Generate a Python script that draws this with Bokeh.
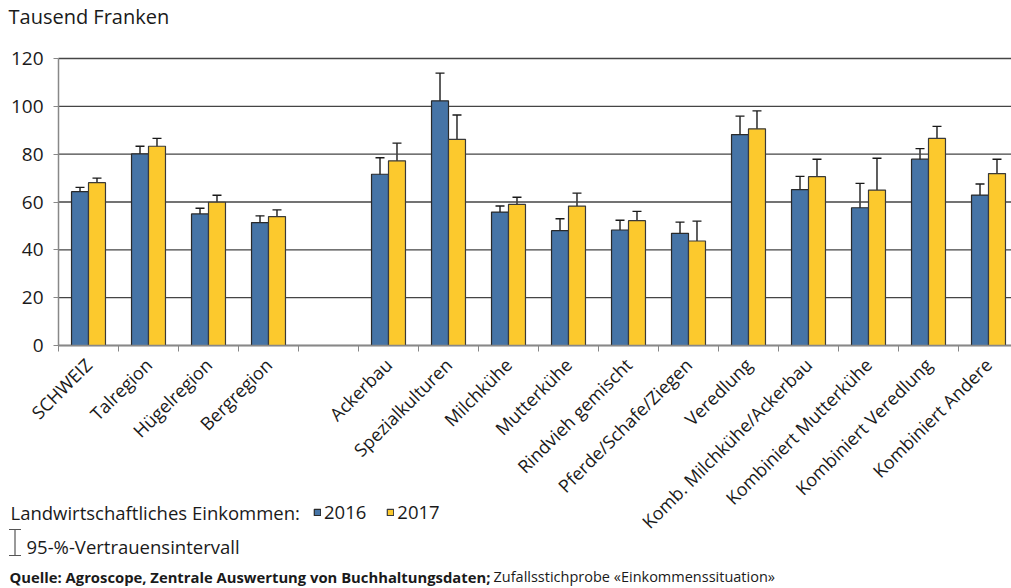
import math
from bokeh.plotting import figure
from bokeh.models import (ColumnDataSource, Whisker, TeeHead, FixedTicker, Label, Range1d,
                          Legend, LegendItem)
from bokeh.embed import file_html
from bokeh.resources import INLINE

# ---------------- data ----------------
categories = ["SCHWEIZ", "Talregion", "Hügelregion", "Bergregion", "",
              "Ackerbau", "Spezialkulturen", "Milchkühe", "Mutterkühe",
              "Rindvieh gemischt", "Pferde/Schafe/Ziegen", "Veredlung",
              "Komb. Milchkühe/Ackerbau", "Kombiniert Mutterkühe",
              "Kombiniert Veredlung", "Kombiniert Andere"]
values_2016 = [64.3, 80.1, 55.0, 51.4, None, 71.6, 102.3, 55.8, 48.0, 48.3,
               46.9, 88.2, 65.2, 57.6, 77.9, 62.9]
ci_2016 = [1.8, 3.2, 2.4, 2.8, None, 6.9, 11.6, 2.5, 5.0, 4.1,
           4.7, 7.7, 5.5, 10.2, 4.4, 4.6]
values_2017 = [68.1, 83.3, 59.9, 53.9, None, 77.2, 86.2, 59.0, 58.3, 52.2,
               43.7, 90.6, 70.6, 65.0, 86.6, 71.9]
ci_2017 = [1.9, 3.3, 2.9, 2.8, None, 7.4, 10.2, 3.0, 5.4, 3.9,
           8.3, 7.5, 7.3, 13.3, 5.0, 6.0]
y_ticks = [0, 20, 40, 60, 80, 100, 120]
series_names = ["2016", "2017"]

BLUE = "#4674a6"
YELLOW = "#fcc92d"
FONT = "Open Sans"
TXT = "#1a1a1a"
AXIS = "#888888"
GRID = "#454545"

# ---------------- geometry ----------------
# The plotting frame covers the whole canvas so that the texts below the
# chart are not clipped; the axes are pinned at x=-0.5 and y=0.
W, H = 1011, 588
AX_X, AX_Y = 58, 345          # canvas px of the axis corner
SLOT_PX = 60.0                # px per category slot
Y_PX = (AX_Y - 58) / 120.0    # px per thousand francs
X0 = -0.5
BW = 0.283
OFF = BW / 2

x_start = X0 - AX_X / SLOT_PX
x_end = X0 + (W - AX_X) / SLOT_PX
y_end = AX_Y / Y_PX
y_start = -(H - AX_Y) / Y_PX

p = figure(width=W, height=H, output_backend="svg", toolbar_location=None,
           x_range=Range1d(x_start, x_end), y_range=Range1d(y_start, y_end),
           min_border=0)
p.outline_line_color = None
p.background_fill_color = "white"
p.border_fill_color = "white"
p.xgrid.visible = False
p.ygrid.visible = False

# horizontal grid lines (from the axis to the right edge)
p.segment(x0=[X0] * len(y_ticks), x1=[x_end] * len(y_ticks), y0=y_ticks, y1=y_ticks,
          line_color=GRID, line_width=1.3)

def build(vals, cis, shift):
    xs, tops, lo, hi = [], [], [], []
    for i, (v, c) in enumerate(zip(vals, cis)):
        if v is None:
            continue
        xs.append(i + shift)
        tops.append(v)
        lo.append(v - c)
        hi.append(v + c)
    return ColumnDataSource(dict(x=xs, top=tops, lo=lo, hi=hi))

src16 = build(values_2016, ci_2016, -OFF)
src17 = build(values_2017, ci_2017, OFF)

r16 = p.vbar(x="x", top="top", width=BW, source=src16, fill_color=BLUE,
             line_color="#2a2a2a", line_width=1.2)
r17 = p.vbar(x="x", top="top", width=BW, source=src17, fill_color=YELLOW,
             line_color="#3a3a3a", line_width=1.2)

for src in (src16, src17):
    p.add_layout(Whisker(source=src, base="x", lower="lo", upper="hi",
                         line_color="#1a1a1a", line_width=1.4,
                         upper_head=TeeHead(size=9, line_color="#1a1a1a", line_width=1.4),
                         lower_head=TeeHead(size=9, line_color="#1a1a1a", line_width=1.4)))

# ---------------- axes ----------------
xa = p.xaxis[0]
xa.fixed_location = 0
xa.bounds = (X0, x_end)
xa.ticker = FixedTicker(ticks=list(range(len(categories))),
                        minor_ticks=[i - 0.5 for i in range(len(categories) + 1)])
xa.major_label_overrides = {i: c for i, c in enumerate(categories)}
xa.major_label_orientation = math.pi / 4
xa.major_tick_in = 0
xa.major_tick_out = 0
xa.minor_tick_in = 0
xa.minor_tick_out = 6
xa.minor_tick_line_color = AXIS
xa.axis_line_color = AXIS
xa.axis_line_width = 1.5
xa.major_label_text_font = FONT
xa.major_label_text_font_size = "18px"
xa.major_label_text_color = TXT
xa.major_label_standoff = 10

ya = p.yaxis[0]
ya.fixed_location = X0
ya.bounds = (0, 120)
ya.ticker = FixedTicker(ticks=y_ticks)
ya.major_tick_in = 0
ya.major_tick_out = 5
ya.minor_tick_out = 0
ya.minor_tick_in = 0
ya.major_tick_line_color = AXIS
ya.axis_line_color = AXIS
ya.axis_line_width = 1.5
ya.major_label_text_font = FONT
ya.major_label_text_font_size = "19px"
ya.major_label_text_color = TXT
ya.major_label_standoff = 10

# ---------------- texts (screen units: px from the frame's bottom-left) ----------------
def lab(text, px, py, size, bold=False, color=TXT):
    shift = 0.38 * size          # observed baseline offset of the svg text
    p.add_layout(Label(x=px, y=H - py + shift, x_units="screen", y_units="screen",
                       text=text, text_font=FONT, text_font_size=f"{size}px",
                       text_font_style="bold" if bold else "normal",
                       text_color=color, text_baseline="alphabetic"))

lab("Tausend Franken", 8, 24, 20)
lab("Landwirtschaftliches Einkommen:", 10, 519, 18.5)
lab("95-%-Vertrauensintervall", 26, 553, 18.5)
lab("Quelle: Agroscope, Zentrale Auswertung von Buchhaltungsdaten;", 9, 582, 14.8, bold=True)
lab("Zufallsstichprobe «Einkommenssituation»", 493, 582, 14.5)

legend = Legend(items=[LegendItem(label=series_names[0], renderers=[r16]),
                       LegendItem(label=series_names[1], renderers=[r17])],
                orientation="horizontal", location=(313, H - 524),
                glyph_width=8, glyph_height=8, label_standoff=3, spacing=20,
                padding=0, margin=0, background_fill_alpha=0,
                border_line_color=None, label_text_font=FONT,
                label_text_font_size="18.5px", label_text_color=TXT,
                label_height=24)
p.add_layout(legend)

icon = ColumnDataSource(dict(b=[14.5], l=[H - 555], u=[H - 529]))
p.add_layout(Whisker(source=icon, base="b", lower="l", upper="u",
                     base_units="screen", lower_units="screen", upper_units="screen",
                     line_color="#555555", line_width=1.2,
                     upper_head=TeeHead(size=12, line_color="#555555", line_width=1.2),
                     lower_head=TeeHead(size=12, line_color="#555555", line_width=1.2)))

open("out.html", "w").write(file_html(p, INLINE))
